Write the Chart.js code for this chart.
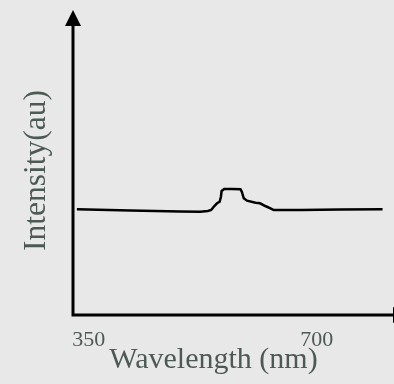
<!DOCTYPE html>
<html>
<head>
<meta charset="utf-8">
<script src="https://cdn.jsdelivr.net/npm/chart.js@4/dist/chart.umd.min.js"></script>
<style>
    html, body { margin: 0; padding: 0; background: #e8e8e8; }
    #box { width: 394px; height: 384px; }
</style>
</head>
<body>
<div id="box"><canvas id="spectrumChart" width="394" height="384"></canvas></div>
<script>
// wavelength (nm) and intensity (au)
const wavelengths = [332, 414, 490, 521, 533, 538, 542, 547, 551, 553, 554, 558, 570, 583, 585, 588, 593, 606, 613, 621, 629, 634, 675, 736, 801];
const intensities = [105.7, 104.5, 103.5, 103.3, 104, 105, 108.3, 111.7, 113.3, 118.3, 124, 126, 126, 125.7, 123.3, 116.7, 114.3, 112.3, 111.7, 109, 106.7, 105, 105, 105.4, 105.7];
const tickValues = [350, 700];
const xTitle = "Wavelength (nm)";
const yTitle = "Intensity(au)";

const textColor = "#4d5a53";
const serif = "'Liberation Serif', 'DejaVu Serif', serif";

document.addEventListener("DOMContentLoaded", function () {

    const canvas = document.getElementById("spectrumChart");

    // axis lines with arrow heads, plus the x title (it sits left of centre)
    const axesPlugin = {
        id: "arrowAxes",
        afterDraw(chart) {
            const ctx = chart.ctx;
            const a = chart.chartArea;
            ctx.save();
            ctx.strokeStyle = "#000";
            ctx.fillStyle = "#000";
            ctx.lineWidth = 3;
            ctx.beginPath();
            ctx.moveTo(a.left, a.top);
            ctx.lineTo(a.left, a.bottom);
            ctx.lineTo(a.right, a.bottom);
            ctx.stroke();

            ctx.beginPath();
            ctx.moveTo(a.left, a.top - 16);
            ctx.lineTo(a.left - 8, a.top);
            ctx.lineTo(a.left + 8, a.top);
            ctx.closePath();
            ctx.fill();

            ctx.beginPath();
            ctx.moveTo(a.right + 16, a.bottom);
            ctx.lineTo(a.right, a.bottom - 8);
            ctx.lineTo(a.right, a.bottom + 8);
            ctx.closePath();
            ctx.fill();

            ctx.font = "30px " + serif;
            ctx.fillStyle = textColor;
            ctx.textAlign = "center";
            ctx.textBaseline = "alphabetic";
            ctx.fillText(xTitle, 213.5, 368);
            ctx.restore();
        }
    };

    new Chart(canvas, {
        type: "line",
        data: {
            labels: wavelengths,
            datasets: [{
                data: wavelengths.map((w, i) => ({ x: w, y: intensities[i] })),
                borderColor: "#000",
                borderWidth: 2.5,
                pointRadius: 0,
                tension: 0,
                fill: false
            }]
        },
        options: {
            responsive: false,
            animation: false,
            layout: { padding: { top: 26, right: 1, left: 0, bottom: 0 } },
            plugins: { legend: { display: false }, tooltip: { enabled: false } },
            scales: {
                x: {
                    type: "linear",
                    min: 326,
                    max: 817,
                    grid: { display: false, drawTicks: false },
                    border: { display: false },
                    afterBuildTicks: (scale) => {
                        scale.ticks = tickValues.map(v => ({ value: v }));
                    },
                    afterFit: (scale) => { scale.height = 69; },
                    ticks: {
                        color: textColor,
                        font: { family: serif, size: 22 },
                        padding: 12,
                        maxRotation: 0,
                        autoSkip: false
                    }
                },
                y: {
                    min: 0,
                    max: 289,
                    grid: { display: false, drawTicks: false },
                    border: { display: false },
                    ticks: { display: false },
                    afterFit: (scale) => { scale.width = 73; },
                    title: {
                        display: true,
                        text: yTitle,
                        color: textColor,
                        font: { family: serif, size: 31.5 },
                        padding: { top: 18, bottom: 0 }
                    }
                }
            }
        },
        plugins: [axesPlugin]
    });
});
</script>
</body>
</html>
